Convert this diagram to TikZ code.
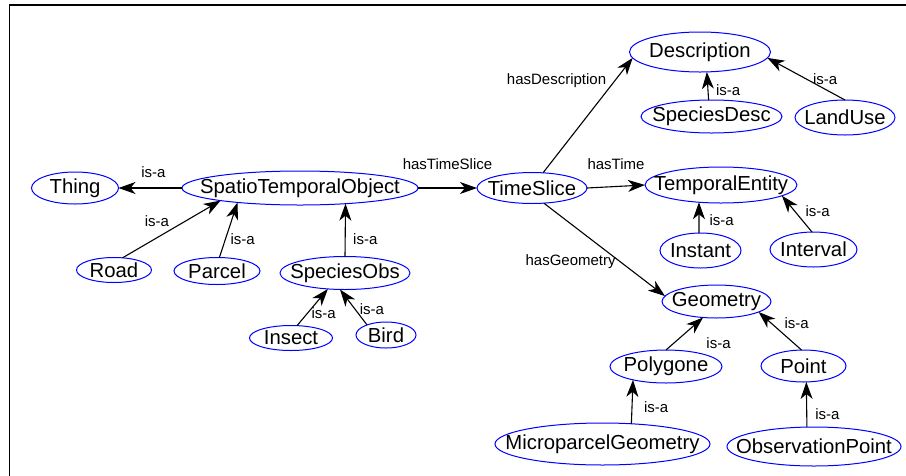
\documentclass[tikz,border=0pt]{standalone}
\usepackage{fontspec}
\setmainfont{Liberation Sans}
\usepackage{tikz}
\usetikzlibrary{positioning}
\usetikzlibrary{shapes.geometric}
\usetikzlibrary{arrows.meta}

\begin{document}
\begin{tikzpicture}[x=1pt, y=-1pt]

                \def\fs{20.3}
                \def\ls{15}

                % Ellipse for a class: width and height are given,
                % the text may touch the border
                \tikzset{cls/.style 2 args={ellipse, draw=blue,
                        line width=1pt, inner sep=-60pt, outer sep=0pt,
                        minimum width=#1, minimum height=#2, on grid,
                        font=\fontsize{\fs}{\fs}\selectfont},
                    lbl/.style={inner sep=1pt,
                        font=\fontsize{\ls}{\ls}\selectfont}}

                \useasboundingbox (0, 0) rectangle (906, 475);
                \draw[line width=1.5pt] (9.5, 480) |- (910, 5);

                % Classes, placed from the central one
                \node[cls={236pt}{34pt}] (sto) at (300, 188)
                {SpatioTemporalObject};
                \node[cls={87pt}{32pt}] (thing) [left=225pt of sto]
                {Thing};
                \node[cls={75pt}{25pt}] (road)
                [below left=82pt and 186pt of sto] {Road};
                \node[cls={86pt}{27pt}] (parcel)
                [below left=83pt and 83pt of sto] {Parcel};
                \node[cls={130pt}{33pt}] (speciesobs)
                [below right=85pt and 45pt of sto] {SpeciesObs};
                \node[cls={83pt}{25pt}] (insect)
                [below left=65pt and 54pt of speciesobs] {Insect};
                \node[cls={60pt}{26pt}] (bird)
                [below right=62pt and 41pt of speciesobs] {Bird};
                \node[cls={110pt}{31pt}] (timeslice) [right=232pt of sto]
                {TimeSlice};
                \node[cls={141pt}{40pt}] (description)
                [above right=136pt and 168pt of timeslice] {Description};
                \node[cls={141pt}{33pt}] (speciesdesc)
                [below right=64.5pt and 11.5pt of description] {SpeciesDesc};
                \node[cls={100pt}{35pt}] (landuse)
                [below right=65.5pt and 145pt of description] {LandUse};
                \node[cls={152pt}{36pt}] (tempent)
                [above right=3pt and 189pt of timeslice] {TemporalEntity};
                \node[cls={81pt}{35pt}] (instant)
                [below left=65.5pt and 20.5pt of tempent] {Instant};
                \node[cls={87pt}{35pt}] (interval)
                [below right=64.5pt and 92.5pt of tempent] {Interval};
                \node[cls={109pt}{33pt}] (geometry)
                [below right=113.5pt and 184.5pt of timeslice] {Geometry};
                \node[cls={112pt}{33pt}] (polygone)
                [below left=65pt and 50.5pt of geometry] {Polygone};
                \node[cls={85pt}{32pt}] (point)
                [below right=64.5pt and 87pt of geometry] {Point};
                \node[cls={215pt}{42pt}] (micro)
                [below left=77.5pt and 63.5pt of polygone]
                {MicroparcelGeometry};
                \node[cls={174pt}{39pt}] (obspoint)
                [below right=80.5pt and 10.5pt of point]
                {ObservationPoint};

                % Relations
                \begin{scope}[line width=1.1pt,
                    -{Stealth[length=17pt, width=12pt, inset=5pt]}]
                    \draw (sto.west) -- node[lbl, pos=.45, above=9pt]
                    {is-a} (thing.east);
                    \draw (road.55) -- node[lbl, pos=.35, above=9.5pt]
                    {is-a} (sto.189);
                    \draw (parcel.80) -- node[lbl, pos=.34, right=3.5pt]
                    {is-a} (sto.193);
                    \draw (speciesobs.north) -- node[lbl, pos=.33, right=6.5pt]
                    {is-a} (sto.341);
                    \draw (insect.64) -- node[lbl, pos=.34, right=2.5pt]
                    {is-a} (speciesobs.223);
                    \draw (bird.152) -- node[lbl, pos=.45, right=3.5pt]
                    {is-a} (speciesobs.253);
                    \draw (sto.east) -- node[lbl, above=16.5pt]
                    {hasTimeSlice} (timeslice.west);
                    \draw (timeslice.54) -- node[lbl, pos=.8, left=7pt]
                    {hasDescription} (description.185);
                    \draw (timeslice.east) -- node[lbl, above=15.5pt]
                    {hasTime} (tempent.west);
                    \draw (timeslice.308) -- node[lbl, pos=.63, left=3pt]
                    {hasGeometry} (geometry.174);
                    \draw (speciesdesc.100) -- node[lbl, pos=.34, right=6.5pt]
                    {is-a} (description.289);
                    \draw (landuse.north) -- node[lbl, pos=.49, right=4.5pt]
                    {is-a} (description.355);
                    \draw (instant.95) -- node[lbl, pos=.41, right=9pt]
                    {is-a} (tempent.218);
                    \draw (interval.95) -- node[lbl, pos=.58, right=9.5pt]
                    {is-a} (tempent.350);
                    \draw (polygone.north) -- node[lbl, pos=.2, right=31.5pt]
                    {is-a} (geometry.230);
                    \draw (point.97) -- node[lbl, pos=.72, right=12.5pt]
                    {is-a} (geometry.346);
                    \draw (micro.35) -- node[lbl, pos=.37, right=10.5pt]
                    {is-a} (polygone.202);
                    \draw (obspoint.110) -- node[lbl, pos=.29, right=7pt]
                    {is-a} (point.280);
                \end{scope}

\end{tikzpicture}
\end{document}
